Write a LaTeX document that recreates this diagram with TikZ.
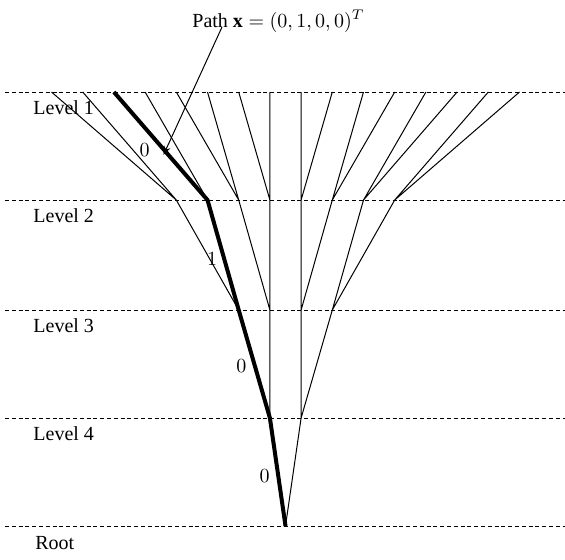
\documentclass[tikz,border=0pt]{standalone}
\usepackage{fontspec}
\setmainfont{Liberation Serif}
\usepackage{amsmath}
\usetikzlibrary{arrows.meta,calc}

\tikzset{
  level/.style={dash pattern=on 2pt off 1.4pt,line width=0.5pt},
  edge/.style={line width=0.5pt},
  bitpath/.style={line width=2pt,line join=round},
  lvl/.style={anchor=base west,inner sep=0pt,font=\normalsize},
  bit/.style={inner sep=0pt,font=\normalsize}
}

\begin{document}
\begin{tikzpicture}[x=0.5pt,y=-0.5pt]
  \useasboundingbox (0,0) rectangle (565,559);
  % levels of the tree, root at the bottom
  \foreach \lev/\n/\y in {1/16/92,2/8/200,3/4/310,4/2/418,5/1/526}{
    \draw[level] (5,\y) -- (565,\y);
    \pgfmathtruncatemacro{\last}{\n-1}
    \foreach \j in {0,...,\last}
      \coordinate (n\lev-\j) at ({285.5+31.2*(\j-(\n-1)/2)},\y);
  }
  \node[lvl] (lab1) at (33,114) {Level 1};
  \node[lvl] (lab2) at (33,222) {Level 2};
  \node[lvl] (lab3) at (33,332) {Level 3};
  \node[lvl] (lab4) at (33,440) {Level 4};
  \node[lvl] (lab5) at (35,549) {Root};
  % every node joins its two children one level up
  \foreach \lev/\n in {2/8,3/4,4/2,5/1}{
    \pgfmathtruncatemacro{\up}{\lev-1}
    \pgfmathtruncatemacro{\last}{\n-1}
    \foreach \j in {0,...,\last}{
      \pgfmathtruncatemacro{\a}{2*\j}
      \pgfmathtruncatemacro{\b}{2*\j+1}
      \draw[edge] (n\lev-\j) -- (n\up-\a) (n\lev-\j) -- (n\up-\b);
    }
  }
  % the path x = (0,1,0,0)^T
  \draw[bitpath] (n5-0) -- (n4-0) -- (n3-0) -- (n2-1) -- (n1-2);
  \node[bit] (b1) at ($(n1-2)!0.5!(n2-1)+(-16,4)$) {$0$};
  \node[bit] (b2) at ($(n2-1)!0.5!(n3-0)+(-11,4)$) {$1$};
  \node[bit] (b3) at ($(n3-0)!0.5!(n4-0)+(-13,2)$) {$0$};
  \node[bit] (b4) at ($(n4-0)!0.5!(n5-0)+(-13,4)$) {$0$};
  \node[anchor=base west,inner sep=0pt] (title) at (192,27) {Path $\mathbf{x}=(0,1,0,0)^T$};
  \coordinate (from) at ($(title.base west)+(30,0)$);
  \coordinate (tip) at ($(n1-2)!0.583!(n2-1)+(-5,0)$);
  \draw[edge,-{Stealth[length=4.5pt,width=3.5pt,inset=1.5pt]}] (from) -- (tip);
\end{tikzpicture}
\end{document}
